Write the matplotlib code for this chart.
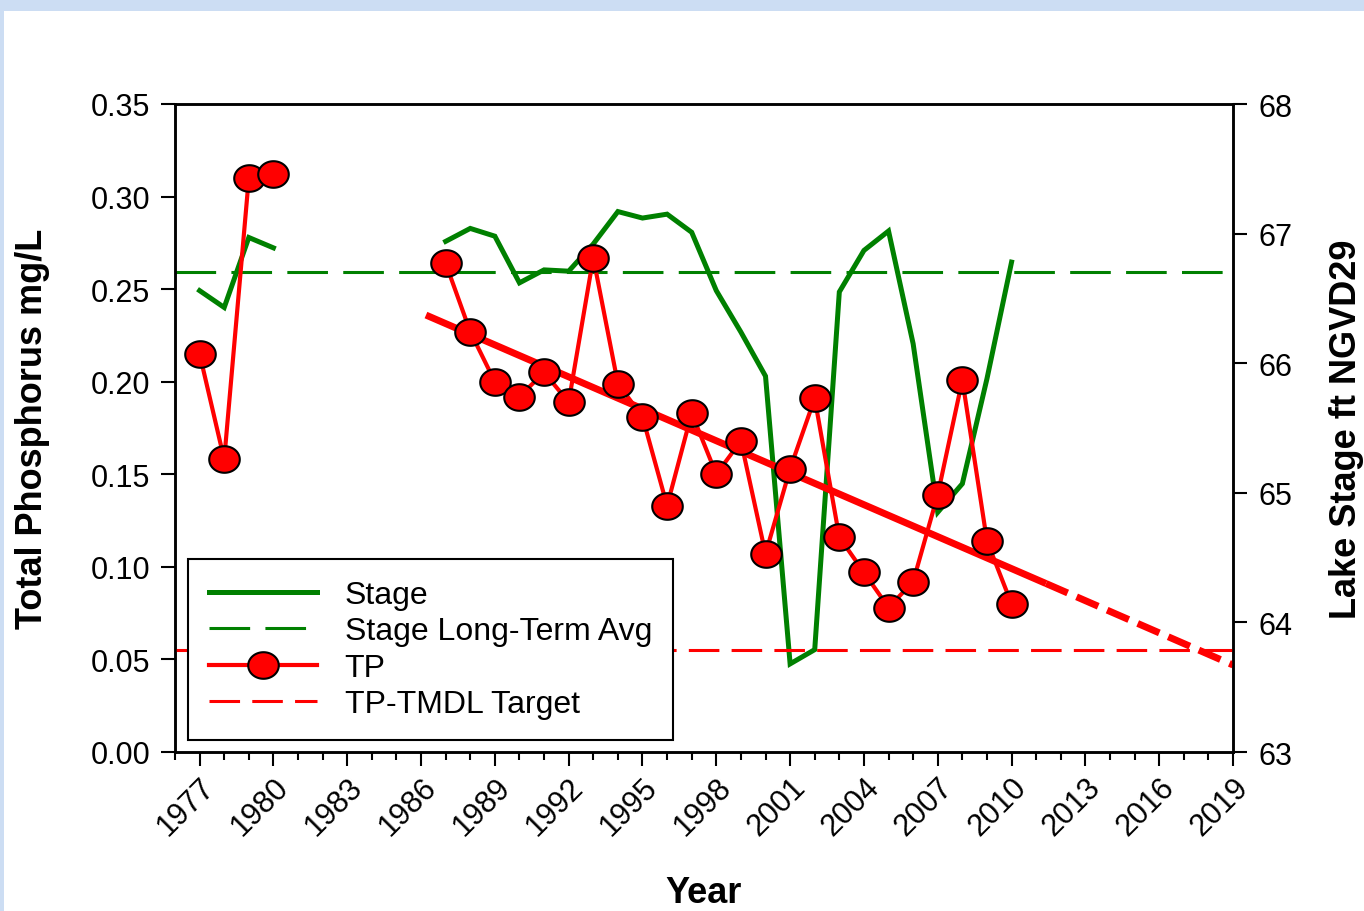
import numpy as np
import matplotlib
matplotlib.use('Agg')
import matplotlib.pyplot as plt
from matplotlib.path import Path
from matplotlib.patches import Rectangle
from matplotlib.lines import Line2D
from matplotlib.ticker import MultipleLocator, FormatStrFormatter

plt.rcParams['font.family'] = ['Liberation Sans', 'DejaVu Sans']

nan = np.nan
years = list(range(1977, 2011))
tp = [0.215, 0.158, 0.310, 0.312, nan, nan, nan, nan, nan, nan,
      0.264, 0.227, 0.200, 0.192, 0.205, 0.189, 0.267, 0.199, 0.181, 0.133,
      0.183, 0.150, 0.168, 0.107, 0.153, 0.191, 0.116, 0.097, 0.078, 0.092,
      0.139, 0.201, 0.114, 0.080]
stage = [66.56, 66.43, 66.97, 66.89, nan, nan, nan, nan, nan, nan,
         66.94, 67.04, 66.98, 66.62, 66.72, 66.71, 66.92, 67.17, 67.12, 67.15,
         67.01, 66.56, 66.24, 65.90, 63.68, 63.79, 66.55, 66.87, 67.02, 66.15,
         64.85, 65.07, 65.88, 66.78]
stage_avg = 66.70
tp_target = 0.055
trend_years = [1986.2, 2011.4]
trend_vals = [0.236, 0.091]
proj_years = [2011.4, 2019.0]
proj_vals = [0.091, 0.047]

x_ticks = list(range(1977, 2020, 3))
y_left_ticks = [0.00, 0.05, 0.10, 0.15, 0.20, 0.25, 0.30, 0.35]
y_right_ticks = [63, 64, 65, 66, 67, 68]

GREEN = '#008000'
RED = '#FF0000'

theta = np.linspace(0, 2 * np.pi, 80)
ell = Path(np.column_stack([np.cos(theta), 0.87 * np.sin(theta)]), closed=True)

fig = plt.figure(figsize=(13.64, 9.12), dpi=100, facecolor='#CCDDF3')
fig.patches.append(Rectangle((4 / 1364, 0), 1, 1 - 12 / 912, transform=fig.transFigure,
                             facecolor='white', edgecolor='none', zorder=-10))

ax = fig.add_axes([175 / 1364, 1 - 753 / 912, (1233 - 175) / 1364, (753 - 105) / 912])
ax2 = ax.twinx()
ax.set_zorder(ax2.get_zorder() + 1)
ax.patch.set_visible(False)
ax2.patch.set_visible(False)

# Stage (right axis)
ax2.plot(years, stage, color=GREEN, lw=3.6, solid_joinstyle='miter')
ax2.axhline(stage_avg, color=GREEN, lw=2.2, linestyle=(0, (13.3, 5)))

# TP (left axis)
ax.axhline(tp_target, color=RED, lw=2.2, linestyle=(0, (10, 4)))
ax.plot(trend_years, trend_vals, color=RED, lw=5, solid_capstyle='butt')
ax.plot(proj_years, proj_vals, color=RED, lw=5, linestyle=(0, (3.4, 1.4)))
ax.plot(years, tp, color=RED, lw=3, marker=ell, markersize=22,
        markerfacecolor=RED, markeredgecolor='black', markeredgewidth=1.5)

ax.set_xlim(1976, 2019)
ax.set_ylim(0, 0.35)
ax2.set_ylim(63, 68)

ax.set_xticks(x_ticks)
ax.xaxis.set_minor_locator(MultipleLocator(1))
ax.set_yticks(y_left_ticks)
ax.yaxis.set_major_formatter(FormatStrFormatter('%.2f'))
ax2.set_yticks(y_right_ticks)

ax.tick_params(axis='x', which='major', direction='out', length=10, width=1.5,
               labelsize=22, pad=4)
ax.tick_params(axis='x', which='minor', direction='out', length=6, width=1.5)
ax.tick_params(axis='y', which='major', direction='out', length=10, width=1.5,
               labelsize=22, pad=8)
ax2.tick_params(axis='y', which='major', direction='out', length=10, width=1.5,
                labelsize=22, pad=8)
for lbl in ax.get_xticklabels():
    lbl.set_rotation(45)
    lbl.set_ha('right')
    lbl.set_rotation_mode('anchor')

for a in (ax, ax2):
    for s in a.spines.values():
        s.set_linewidth(1.8)

ax.set_xlabel('Year', fontsize=26, fontweight='bold')
ax.xaxis.set_label_coords(0.5, -0.19)
ax.set_ylabel('Total Phosphorus mg/L', fontsize=26, fontweight='bold')
ax.yaxis.set_label_coords(-0.118, 0.5)
ax2.set_ylabel('Lake Stage ft NGVD29', fontsize=26, fontweight='bold')
ax2.yaxis.set_label_coords(1.091, 0.5)

handles = [
    Line2D([], [], color=GREEN, lw=3.6),
    Line2D([], [], color=GREEN, lw=2.2, linestyle=(0, (13.3, 5))),
    Line2D([], [], color=RED, lw=3, marker=ell, markersize=22,
           markerfacecolor=RED, markeredgecolor='black', markeredgewidth=1.5),
    Line2D([], [], color=RED, lw=2.2, linestyle=(0, (10, 4))),
]
labels = ['Stage', 'Stage Long-Term Avg', 'TP', 'TP-TMDL Target']
leg = ax.legend(handles, labels, loc='lower left', bbox_to_anchor=(0.0123, 0.0185),
                borderaxespad=0, fontsize=23, handlelength=3.4, handletextpad=0.85,
                labelspacing=0.2, borderpad=0.65, numpoints=1, fancybox=False,
                framealpha=1, edgecolor='black')
leg.get_frame().set_linewidth(1.5)

fig.savefig('out.png', dpi=100, facecolor=fig.get_facecolor())
